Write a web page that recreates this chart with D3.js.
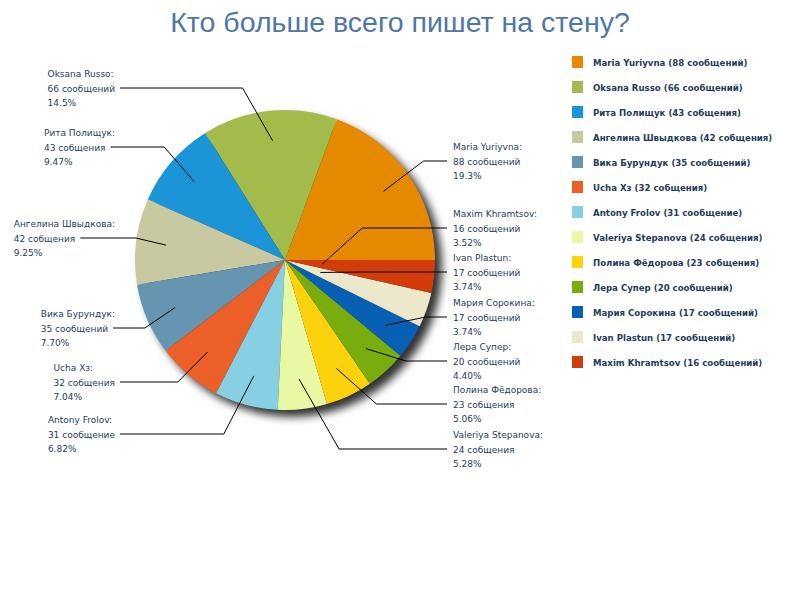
<!DOCTYPE html><html><head><meta charset="utf-8"><script src="https://cdn.jsdelivr.net/npm/d3@7"></script>
<style>body{margin:0;background:#fff}</style></head><body><svg width="800" height="600"></svg><script>
const names=["Maria Yuriyvna","Oksana Russo","Рита Полищук","Ангелина Швыдкова","Вика Бурундук","Ucha Xз","Antony Frolov","Valeriya Stepanova","Полина Фёдорова","Лера Супер","Мария Сорокина","Ivan Plastun","Maxim Khramtsov"];
const values=[88,66,43,42,35,32,31,24,23,20,17,17,16];
const words=["сообщений","сообщений","собщения","собщения","сообщений","собщения","сообщение","собщения","собщения","сообщений","сообщений","сообщений","сообщений"];
const percents=["19.3%","14.5%","9.47%","9.25%","7.70%","7.04%","6.82%","5.28%","5.06%","4.40%","3.74%","3.74%","3.52%"];
const colors=["#e58a00","#a3bb4b","#1b95d8","#c9c9a1","#6595b1","#ed5f29","#87cfe3","#e9f8a3","#fcd20d","#79ac0d","#0760b4","#ece8cc","#d23c0b"];
const labelY=[161,88,147,238,328,382,434,449,404,361,317,272,228];

const s=d3.select("svg");
s.append("text").attr("x",400).attr("y",32).attr("text-anchor","middle").attr("font-family","Arial, Liberation Sans").attr("font-size",28.5).attr("fill","#4e77a3").text("Кто больше всего пишет на стену?");
const cx=285,cy=260,r=150;
const defs=s.append("defs");
defs.append("filter").attr("id","sh").attr("x","-20%").attr("y","-20%").attr("width","140%").attr("height","140%").append("feGaussianBlur").attr("stdDeviation",4);
s.append("circle").attr("cx",cx+7).attr("cy",cy+7).attr("r",r).attr("fill","#000").attr("opacity",0.8).attr("filter","url(#sh)");
const pie=d3.pie().sort(null).startAngle(Math.PI/2).endAngle(Math.PI/2-2*Math.PI);
const arcs=pie(values);
const arc=d3.arc().innerRadius(0).outerRadius(r);
const g=s.append("g").attr("transform","translate("+cx+","+cy+")");
g.selectAll("path").data(arcs).join("path").attr("d",arc).attr("fill",(d,i)=>colors[i]);
const font="Verdana, DejaVu Sans";
arcs.forEach((d,i)=>{
  const a=(d.startAngle+d.endAngle)/2;
  const ar=i>=11?0.25*r:0.8*r;
  const ax=cx+ar*Math.sin(a), ay=cy-ar*Math.cos(a);
  const right=(i===0||i>=7);
  const lines=[names[i]+":",values[i]+" "+words[i],percents[i]];
  const t=s.append("text").attr("font-family",font).attr("font-size",9).attr("fill","#1f3c5c");
  lines.forEach((l,k)=>t.append("tspan").attr("dy",k?14.5:0).attr("x",0).text(l));
  const y0=labelY[i]-14.5+3.5;
  if(right){
    t.attr("transform","translate(453,"+y0+")");
    const elb=Math.max(ax,Math.min(ax+40,440));
    s.append("polyline").attr("points",ax+","+ay+" "+elb+","+labelY[i]+" 447,"+labelY[i]).attr("fill","none").attr("stroke","#000");
  } else {
    const nodes=t.selectAll("tspan").nodes();
    const w=d3.max(nodes,n=>n.getComputedTextLength());
    const lx=115-w; t.attr("transform","translate("+lx+","+y0+")");
    const sx=lx+nodes[1].getComputedTextLength()+5;
    const elb=Math.max(ax-30,sx+10);
    s.append("polyline").attr("points",sx+","+labelY[i]+" "+elb+","+labelY[i]+" "+ax+","+ay).attr("fill","none").attr("stroke","#000");
  }
});
names.forEach((n,i)=>{
  const y=62+25*i;
  s.append("rect").attr("x",572).attr("y",y-6).attr("width",11).attr("height",12).attr("fill",colors[i]);
  s.append("text").attr("x",593).attr("y",y+3.5).attr("font-family",font).attr("font-weight","bold").attr("font-size",8.6).attr("fill","#1f3c5c").text(n+" ("+values[i]+" "+words[i]+")");
});
</script></body></html>
